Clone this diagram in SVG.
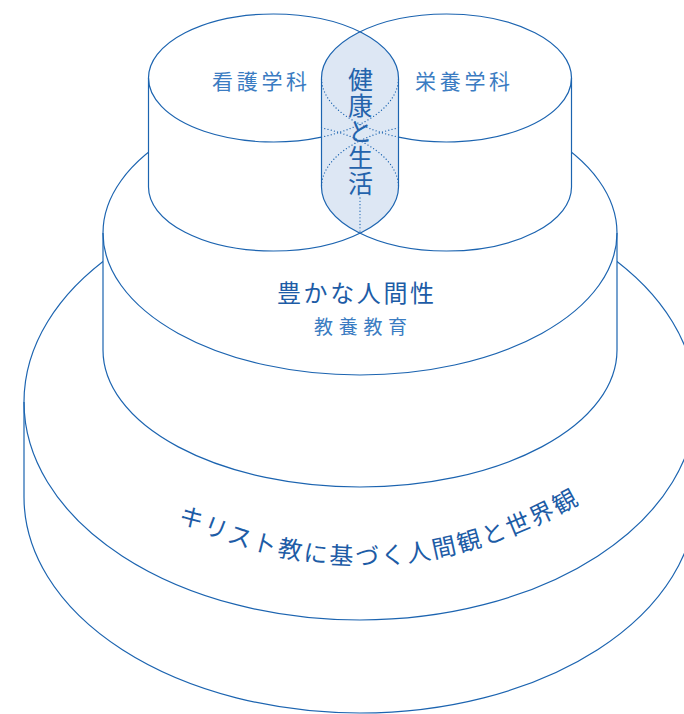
<svg xmlns="http://www.w3.org/2000/svg" width="684" height="714" viewBox="0 0 684 714">
<defs>
<style>
.ln{fill:none;stroke:#1c64b0;stroke-width:1.2}
.sil{fill:#fff;stroke:none}
.dot{fill:none;stroke:#1c64b0;stroke-width:1.3;stroke-dasharray:0.01 3.3;stroke-linecap:round}
.t{font-family:"Noto Sans CJK JP","Noto Sans CJK SC",sans-serif}
.lbl{fill:#3b7cc2;font-size:21px;letter-spacing:3.7px}
.main{fill:#1d5ca6}
.vert{writing-mode:vertical-rl}
</style>
<path id="arcText" d="M102,477.1 Q362,652.9 622,477.1"/>
</defs>
<rect width="684" height="714" fill="#fff"/>

<g id="tier-base">
<path class="sil" d="M24,402 A336,218 0 0 1 696,402 V497 A336,216 0 0 1 24,497 Z"/>
<ellipse class="ln" cx="360" cy="402" rx="336" ry="218"/>
<path class="ln" d="M24,402 V497 A336,216 0 0 0 696,497 V402"/>
<text class="t main" font-size="24" letter-spacing="2.4"><textPath href="#arcText" startOffset="87">キリスト教に基づく人間観と世界観</textPath></text>
</g>

<g id="tier-middle">
<path class="sil" d="M103,233 A257,142 0 0 1 617,233 V350 A257,137 0 0 1 103,350 Z"/>
<ellipse class="ln" cx="360" cy="233" rx="257" ry="142"/>
<path class="ln" d="M103,233 V350 A257,137 0 0 0 617,350 V233"/>
<text class="t main" x="277" y="301.5" font-size="24" letter-spacing="2.6">豊かな人間性</text>
<text class="t" x="314" y="333.5" font-size="19" letter-spacing="5.7" fill="#3b7cc2">教養教育</text>
</g>

<g id="occluders">
<path class="sil" d="M148.5,78 A125,64 0 0 1 398.5,78 V187 A125,64 0 0 1 148.5,187 Z"/>
<path class="sil" d="M321.5,78 A125,64 0 0 1 571.5,78 V187 A125,64 0 0 1 321.5,187 Z"/>
</g>

<g id="overlap-health">
<path d="M321.5,78 A125,64 0 0 1 360,31.8 A125,64 0 0 1 398.5,78 V187 A125,64 0 0 1 360,233.2 A125,64 0 0 1 321.5,187 Z" fill="#dde7f4" stroke="none"/>
<path class="dot" d="M321.5,137.1 A125,64 0 0 0 398.5,78"/>
<path class="dot" d="M398.5,137.1 A125,64 0 0 1 321.5,78"/>
<path class="dot" d="M321.5,127.9 A125,64 0 0 1 398.5,187"/>
<path class="dot" d="M398.5,127.9 A125,64 0 0 0 321.5,187"/>
<path class="dot" d="M360,198 V233"/>
<text class="t vert" x="360.5" y="66.5" font-size="25" letter-spacing="1" fill="#2463ac">健康と生活</text>
</g>

<g id="cyl-nursing">
<path class="ln" d="M148.5,78 A125,64 0 0 1 398.5,78"/>
<path class="ln" d="M148.5,78 A125,64 0 0 0 321.5,137.1"/>
<path class="ln" d="M148.5,78 V187 M398.5,78 V187"/>
<path class="ln" d="M148.5,187 A125,64 0 0 0 398.5,187"/>
<text class="t lbl" x="212" y="89">看護学科</text>
</g>

<g id="cyl-nutrition">
<path class="ln" d="M321.5,78 A125,64 0 0 1 571.5,78"/>
<path class="ln" d="M571.5,78 A125,64 0 0 1 398.5,137.1"/>
<path class="ln" d="M321.5,78 V187 M571.5,78 V187"/>
<path class="ln" d="M321.5,187 A125,64 0 0 0 571.5,187"/>
<text class="t lbl" x="415" y="89">栄養学科</text>
</g>
</svg>
